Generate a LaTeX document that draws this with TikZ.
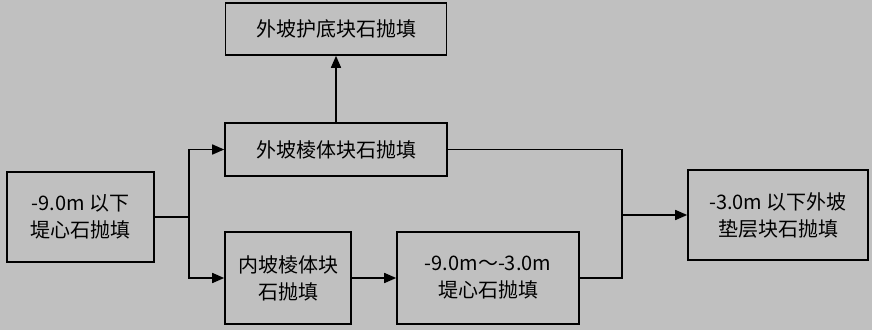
\documentclass[tikz,border=0pt]{standalone}
\usepackage{fontspec}
\newfontfamily\cjk{Noto Sans CJK SC}
\usetikzlibrary{positioning,arrows.meta}
\definecolor{bggray}{HTML}{C0C0C0}

\begin{document}
\begin{tikzpicture}[x=1pt,y=-1pt,
    box/.style={draw,line width=1.6pt,fill=bggray,inner sep=0pt,align=center,
      font=\cjk\fontsize{20}{27}\selectfont},
    ln/.style={line width=1.6pt},
    arr/.style={ln,-{Triangle[length=12pt,width=10pt]}}]
    \fill[bggray] (0,0) rectangle (872,330);
    % boxes
    \node[box,minimum width=221pt,minimum height=52pt] (bottom) at (336,29) {外坡护底块石抛填};
    \node[box,minimum width=222pt,minimum height=53pt] (outer) at (336,149.5) {外坡棱体块石抛填};
    \node[box,minimum width=147pt,minimum height=90pt] (core) at (80.5,217) {-9.0m 以下\\堤心石抛填};
    \node[box,minimum width=126pt,minimum height=92pt] (inner) at (288,278) {内坡棱体块\\石抛填};
    \node[box,minimum width=182pt,minimum height=92pt] (mid) at (488,278) {-9.0m～-3.0m\\堤心石抛填};
    \node[box,minimum width=180pt,minimum height=90pt] (pad) at (778,215) {-3.0m 以下外坡\\垫层块石抛填};
    % connectors
    \coordinate[right=34pt of core.east] (split);
    \coordinate[right=42pt of mid.east] (join);
    \draw[ln] (core.east) -- (split);
    \draw[arr] (split) |- (outer.west);
    \draw[arr] (split) |- (inner.west);
    \draw[arr] (outer.north) -- (bottom.south);
    \draw[arr] (inner) -- (mid);
    \draw[ln] (outer.east) -| (join) -- (mid.east);
    \draw[arr] (join |- pad.west) -- (pad.west);
\end{tikzpicture}
\end{document}
